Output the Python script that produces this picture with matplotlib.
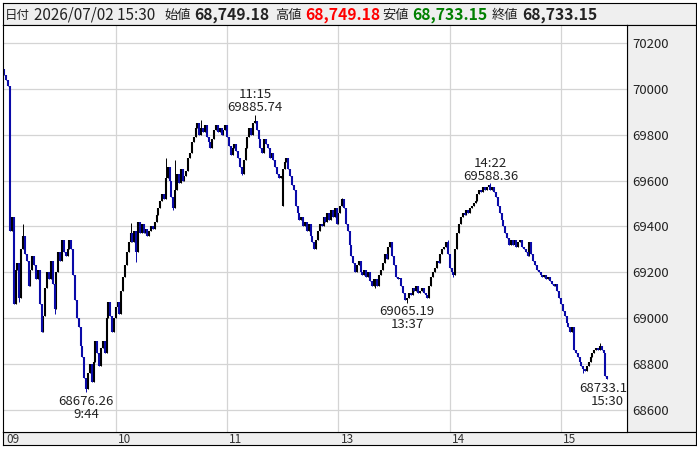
"""1-minute candles for the index, 2026/07/02 session."""
import matplotlib

matplotlib.use("Agg")
import matplotlib.pyplot as plt
import numpy as np
from matplotlib.transforms import blended_transform_factory

plt.rcParams['font.family'] = ['Noto Sans CJK JP', 'DejaVu Sans']

# ---- data ------------------------------------------------------------
date_label = "2026/07/02 15:30"

# closes, one per minute 09:00-11:29
am_close = [
    70060, 70040, 70010, 69380, 69440, 69060, 69210, 69240, 69090, 69300,
    69360, 69280, 69250, 69140, 69210, 69270, 69230, 69170, 69210, 69060,
    68940, 69010, 69130, 69200, 69170, 69250, 69150, 69040, 69200, 69290,
    69250, 69340, 69290, 69270, 69300, 69340, 69300, 69190, 69080, 69000,
    68960, 68880, 68830, 68740, 68690, 68760, 68800, 68720, 68810, 68900,
    68850, 68790, 68870, 68900, 68850, 69000, 69070, 69010, 68940, 69000,
    69050, 69070, 69020, 69120, 69180, 69230, 69290, 69330, 69370, 69330,
    69380, 69290, 69420, 69370, 69410, 69370, 69390, 69360, 69380, 69400,
    69390, 69420, 69450, 69480, 69510, 69540, 69520, 69610, 69660, 69600,
    69530, 69480, 69560, 69630, 69590, 69650, 69600, 69620, 69640, 69700,
    69720, 69770, 69790, 69830, 69850, 69800, 69830, 69810, 69840, 69790,
    69770, 69740, 69780, 69820, 69840, 69810, 69830, 69800, 69820, 69840,
    69790, 69750, 69710, 69740, 69760, 69730, 69700, 69660, 69630, 69690,
    69740, 69790, 69830, 69800, 69850, 69860, 69820, 69780, 69740, 69720,
    69780, 69760, 69740, 69700, 69720, 69690, 69660, 69630, 69610, 69620,
]
# closes, one per minute 12:30-15:24
pm_close = [
    69650, 69680, 69700, 69650, 69620, 69580, 69560, 69490, 69460, 69430,
    69440, 69400, 69420, 69380, 69410, 69360, 69330, 69300, 69340, 69380,
    69410, 69400, 69440, 69420, 69460, 69430, 69470, 69440, 69480, 69410,
    69460, 69490, 69520, 69480, 69410, 69380, 69320, 69270, 69240, 69200,
    69230, 69250, 69200, 69190, 69210, 69180, 69200, 69160, 69140, 69170,
    69170, 69140, 69190, 69210, 69240, 69280, 69260, 69310, 69330, 69270,
    69230, 69180, 69170, 69175, 69140, 69110, 69080, 69090, 69110, 69100,
    69130, 69120, 69140, 69110, 69120, 69130, 69110, 69100, 69090, 69140,
    69180, 69200, 69220, 69250, 69240, 69280, 69300, 69310, 69330, 69280,
    69220, 69200, 69190, 69300, 69370, 69410, 69440, 69460, 69450, 69470,
    69460, 69480, 69490, 69500, 69510, 69540, 69560, 69550, 69570, 69560,
    69570, 69580, 69560, 69570, 69550, 69530, 69490, 69460, 69430, 69400,
    69370, 69350, 69320, 69340, 69320, 69340, 69310, 69330, 69340, 69310,
    69300, 69290, 69270, 69330, 69280, 69250, 69230, 69210, 69200, 69190,
    69180, 69190, 69170, 69180, 69160, 69150, 69140, 69150, 69120, 69090,
    69060, 69030, 69010, 68980, 68960, 68940, 68960, 68860, 68850, 68830,
    68810, 68790, 68780, 68770, 68790, 68810, 68830, 68850, 68860, 68870,
    68860, 68880, 68860, 68850, 68750,
]
# bars whose open is not the previous close (09:00, 12:30)
gap_idx = [0, 150]
gap_open = [70085.0, 69490.0]
# closing print at 15:30: open, high, low, close
final_ohlc = [68749.18, 68749.18, 68733.15, 68733.15]

# visible wick tips (bar slot, price)
wick_idx = [10, 8, 27, 68, 71, 87, 91, 92, 106, 128, 182, 200, 239, 242, 312, 321]
wick_px = [69410, 69070, 69020, 69415, 69245, 69700, 69472, 69690, 69864,
           69625, 69524, 69132, 69340, 69180, 68761, 68890]

ann_time = ["11:15", "14:22", "9:44", "13:37", "15:30"]
ann_price = [69885.74, 69588.36, 68676.26, 69065.19, 68733.15]
ann_side = ["high", "high", "low", "low", "low"]

hour_labels = ["09", "10", "11", "13", "14", "15"]
hour_times = ["9:00", "10:00", "11:00", "13:00", "14:00", "15:00"]
y_ticks = list(range(68600, 70201, 200))

UP, DOWN = "#000000", "#0a0aa8"
GRID = "#d4d4d4"
PANEL = "#efefef"
TXT = "#222222"

# ---- bars ------------------------------------------------------------
closes = np.array(am_close + pm_close + [final_ohlc[3]], float)
opens = np.r_[closes[0], closes[:-1]]
for i, v in zip(gap_idx, gap_open):
    opens[i] = v
opens[-1] = final_ohlc[0]
highs = np.maximum(opens, closes)
lows = np.minimum(opens, closes)
highs[-1], lows[-1] = final_ohlc[1], final_ohlc[2]
for i, v in zip(wick_idx, wick_px):
    highs[i] = max(highs[i], v)
    lows[i] = min(lows[i], v)
n = len(closes)


def slot(t):
    """minute slot on the x axis; lunch break removed, closing print last."""
    if t == "15:30":
        return n - 1
    h, m = map(int, t.split(":"))
    mins = h * 60 + m
    if mins < 11 * 60 + 30:
        return mins - 9 * 60
    return 150 + mins - (12 * 60 + 30)


for t, p, s in zip(ann_time, ann_price, ann_side):
    i = slot(t)
    if s == "high":
        highs[i] = max(highs[i], p)
    else:
        lows[i] = min(lows[i], p)

# ---- layout (pixel boxes, top-left origin) ---------------------------
W, H = 697, 450


def box(x0, y0, x1, y1):
    return [x0 / W, 1 - y1 / H, (x1 - x0) / W, (y1 - y0) / H]


fig = plt.figure(figsize=(W / 100, H / 100), dpi=100)
fig.patch.set_facecolor("white")

panels = []
for rect in [box(3, 3, 696, 25), box(627, 25, 696, 432), box(3, 432, 696, 445)]:
    p = fig.add_axes(rect)
    p.set_facecolor(PANEL)
    p.set_xticks([]); p.set_yticks([])
    for sp in p.spines.values():
        sp.set_linewidth(0.8)
    panels.append(p)
head, side, foot = panels

ax = fig.add_axes(box(3, 25, 627, 432))
for sp in ax.spines.values():
    sp.set_linewidth(0.8)

x = np.arange(n)
up = closes >= opens
for mask, col in [(up, UP), (~up, DOWN)]:
    ax.vlines(x[mask], lows[mask], highs[mask], color=col, lw=0.7)
    b0 = np.minimum(opens, closes)[mask]
    b1 = np.maximum(opens, closes)[mask]
    mid = (b0 + b1) / 2
    b0 = np.minimum(b0, mid - 2)
    b1 = np.maximum(b1, mid + 2)
    ax.vlines(x[mask], b0, b1, color=col, lw=1.5)

ax.set_xlim(-0.8, 335.6)
ax.set_ylim(68504, 70278)

hour_idx = [slot(t) for t in hour_times]
ax.set_xticks(hour_idx[1:])
ax.set_yticks(y_ticks)
ax.grid(True, color=GRID, lw=0.9)
ax.set_axisbelow(True)
ax.tick_params(axis="x", length=0, labelbottom=False)
ax.yaxis.tick_right()
ax.tick_params(axis="y", length=0, pad=4, labelsize=9.5, colors=TXT)

foot_tr = blended_transform_factory(ax.transData, foot.transAxes)
for lbl, i in zip(hour_labels, hour_idx):
    foot.text(i + 1.2, 0.42, lbl, transform=foot_tr, fontsize=8.5,
              ha="left", va="center", color="#333333")

for t, p, s in zip(ann_time, ann_price, ann_side):
    i = slot(t)
    if s == "high":
        txt, dy, va = f"{t}\n{p:.2f}", 0.5, "bottom"
    else:
        txt, dy, va = f"{p:.2f}\n{t}", -1.5, "top"
    ax.annotate(txt, (i, p), xytext=(0, dy), textcoords="offset points",
                ha="center", va=va, fontsize=9.5, linespacing=1.0,
                color=TXT, clip_on=True)

# ---- header line -------------------------------------------------------
o, h, l, c = final_ohlc
pieces = [
    ("日付", 5, 9, "normal", TXT),
    (date_label, 34, 11, "normal", TXT),
    ("始値", 164, 9.5, "normal", TXT),
    (f"{o:,.2f}", 194, 11.3, "bold", TXT),
    ("高値", 275, 9.5, "normal", TXT),
    (f"{h:,.2f}", 305, 11.3, "bold", "#ff0000"),
    ("安値", 382, 9.5, "normal", TXT),
    (f"{l:,.2f}", 412, 11.3, "bold", "#008000"),
    ("終値", 492, 9.5, "normal", TXT),
    (f"{c:,.2f}", 522, 11.3, "bold", TXT),
]
for s, px, fs, fw, col in pieces:
    fig.text(px / W, 1 - 15 / H, s, fontsize=fs, fontweight=fw, color=col,
             ha="left", va="center")

fig.savefig("out.png", dpi=100)
